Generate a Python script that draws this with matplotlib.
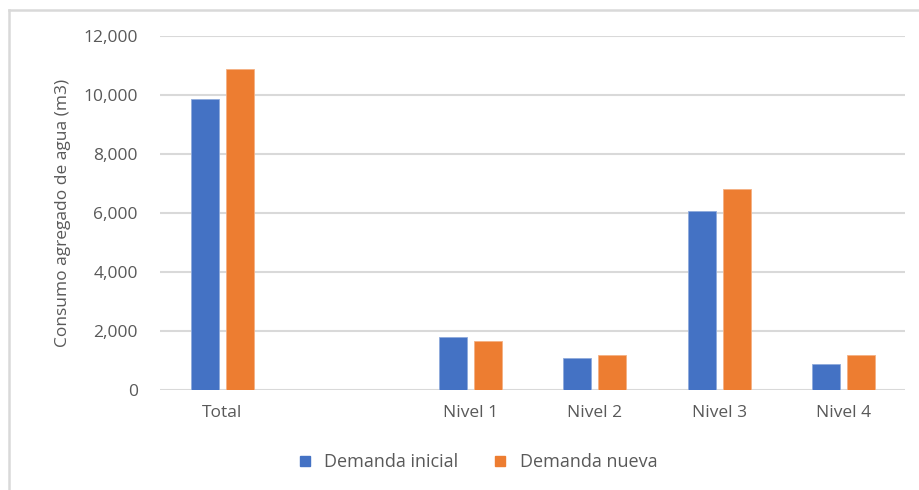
import numpy as np
from matplotlib import pyplot as plt
from matplotlib.lines import Line2D

categories = ['Total', '', 'Nivel 1', 'Nivel 2', 'Nivel 3', 'Nivel 4']
demanda_inicial = [9860, np.nan, 1790, 1070, 6070, 890]
demanda_nueva = [10880, np.nan, 1670, 1190, 6800, 1190]
series_labels = ['Demanda inicial', 'Demanda nueva']
yticks = [0, 2000, 4000, 6000, 8000, 10000, 12000]

BLUE = '#4472c4'
ORANGE = '#ed7d31'
TEXT = '#595959'
GRID = '#d9d9d9'

W, H = 920, 490
fig = plt.figure(figsize = (W / 100, H / 100), dpi = 100)
plt.rcParams['font.family'] = ['Open Sans', 'DejaVu Sans']

ax = fig.add_axes([160 / W, 1 - 390 / H, (905.5 - 160) / W, (390 - 35.7) / H])

x = np.arange(len(categories))
width = 0.226
offset = 0.141
ax.bar(x - offset, demanda_inicial, width, color = BLUE, edgecolor = '#8faadc',
       linewidth = 0.6, label = series_labels[0], zorder = 3)
ax.bar(x + offset, demanda_nueva, width, color = ORANGE, edgecolor = '#f4b183',
       linewidth = 0.6, label = series_labels[1], zorder = 3)

ax.set_xlim(-0.5, len(categories) - 0.5)
ax.set_ylim(0, 12000)
ax.set_yticks(yticks)
ax.set_yticklabels(['{:,}'.format(v) for v in yticks], fontsize = 12.5, color = TEXT)
ax.set_xticks(x)
ax.set_xticklabels(categories, fontsize = 12.5, color = TEXT)
ax.tick_params(axis = 'both', length = 0)
ax.tick_params(axis = 'y', pad = 16)
ax.tick_params(axis = 'x', pad = 11)

ax.grid(True, axis = 'y', color = GRID, linewidth = 1.5, zorder = 0)
for s in ax.spines.values():
  s.set_visible(False)

ax.set_ylabel('Consumo agregado de agua (m3)', fontsize = 12.5, color = TEXT, labelpad = 9)

handles = [Line2D([], [], marker = 's', linestyle = '', color = c, markersize = 7)
           for c in [BLUE, ORANGE]]
fig.legend(handles, series_labels, loc = 'center', bbox_to_anchor = (472 / W, 1 - 462 / H),
           ncol = 2, frameon = False, fontsize = 13, labelcolor = TEXT,
           handletextpad = 0.1, columnspacing = 1.3)

# chart frame (top and left edges only visible)
fig.add_artist(Line2D([8.5 / W, 8.5 / W], [0, 1 - 10 / H], color = GRID, linewidth = 1.8,
                      transform = fig.transFigure))
fig.add_artist(Line2D([8.5 / W, 1], [1 - 10 / H, 1 - 10 / H], color = GRID, linewidth = 1.8,
                      transform = fig.transFigure))

fig.savefig('out.png', dpi = 100, facecolor = 'white')
